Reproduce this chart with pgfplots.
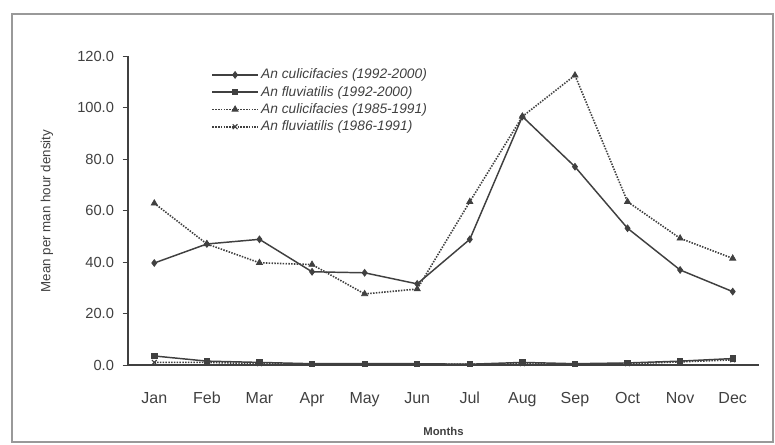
\documentclass[border=0pt]{standalone}
\usepackage{fontspec}
\setmainfont{Liberation Sans}
\usepackage{pgfplots}
\pgfplotsset{compat=1.18}
\definecolor{ln}{HTML}{404040}
\begin{document}
\begin{tikzpicture}
\useasboundingbox (0,0) rectangle (581.25pt,333.75pt);
\draw[gray!80, line width=0.9pt] (9pt,2.25pt) rectangle (579.75pt,323.25pt);
\begin{axis}[
  at={(96pt,60pt)}, anchor=origin,
  scale only axis, width=473.25pt, height=231.75pt,
  xmin=0.5, xmax=12.5, ymin=0, ymax=120,
  axis x line=bottom, axis y line=left,
  axis line style={-, ln, line width=0.8pt},
  xtick={1,...,12},
  xticklabels={Jan,Feb,Mar,Apr,May,Jun,Jul,Aug,Sep,Oct,Nov,Dec},
  x tick style={draw=none},
  extra x ticks={1.5,2.5,...,11.5},
  extra x tick labels={},
  extra x tick style={major tick length=5pt, tick align=center, tick style={draw=gray, line width=0.5pt}},
  ytick={0,20,...,120},
  y tick style={ln, line width=0.5pt},
  tick align=outside, major tick length=4pt,
  /pgf/number format/fixed, /pgf/number format/fixed zerofill, /pgf/number format/precision=1,
  /pgf/number format/assume math mode=true,
  yticklabel style={font=\fontsize{11}{13}\selectfont, text=ln, anchor=east, xshift=-3pt},
  xticklabel style={font=\fontsize{12}{14}\selectfont, text=ln, anchor=base, yshift=-25pt},
  xlabel={\textbf{Months}},
  every axis x label/.style={at={(rel axis cs:0.5,0)}, yshift=-49.5pt, anchor=center,
    font=\fontsize{8.5}{10}\selectfont, text=ln},
  ylabel={Mean per man hour density},
  every axis y label/.style={at={(rel axis cs:0,0.498)}, xshift=-60.75pt, rotate=90, anchor=center,
    font=\fontsize{10}{12}\selectfont, text=ln},
  legend style={at={(0.13,0.972)}, anchor=north west, draw=none, fill=none,
    font=\itshape\fontsize{10.3}{12.4}\selectfont, text=ln,
    row sep=0pt, inner sep=1pt},
  legend cell align=left,
  legend image code/.code={\draw[mark repeat=2,mark phase=2] plot coordinates {(0pt,0pt) (17pt,0pt) (34pt,0pt)};},
  every axis plot/.append style={ln, line width=1.1pt},
]
\addplot[mark=diamond*, mark size=2.5pt, mark options={solid, fill=ln, line width=0.6pt}] coordinates {
(1,39.6) (2,47.0) (3,48.8) (4,36.2) (5,35.8) (6,31.5) (7,48.8) (8,96.5) (9,77.0) (10,53.1) (11,36.9) (12,28.5)};
\addlegendentry{An culicifacies (1992-2000)}
\addplot[mark=square*, mark size=2pt, mark options={solid, fill=ln, line width=0.6pt}] coordinates {
(1,3.5) (2,1.5) (3,1.0) (4,0.5) (5,0.5) (6,0.5) (7,0.3) (8,1.0) (9,0.5) (10,0.8) (11,1.5) (12,2.5)};
\addlegendentry{An fluviatilis (1992-2000)}
\addplot[densely dotted, line width=1.2pt, mark=triangle*, mark size=2.6pt, mark options={solid, fill=ln, line width=0.6pt}] coordinates {
(1,62.8) (2,47.0) (3,39.7) (4,39.0) (5,27.6) (6,29.5) (7,63.4) (8,96.5) (9,112.5) (10,63.4) (11,49.2) (12,41.4)};
\addlegendentry{An culicifacies (1985-1991)}
\addplot[densely dotted, line width=1.2pt, mark=x, mark size=2.5pt, mark options={solid, line width=0.9pt}] coordinates {
(1,1.0) (2,1.0) (3,0.5) (4,0.3) (5,0.3) (6,0.3) (7,0.3) (8,0.5) (9,0.3) (10,0.5) (11,1.2) (12,2.0)};
\addlegendentry{An fluviatilis (1986-1991)}
\end{axis}
\end{tikzpicture}
\end{document}
